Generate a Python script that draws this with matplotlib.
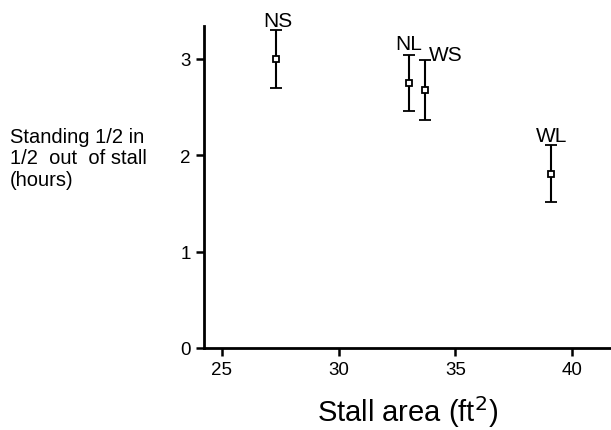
import matplotlib
matplotlib.use("Agg")
import matplotlib.pyplot as plt

groups = ["NS", "NL", "WS", "WL"]
stall_area = [27.3, 33.0, 33.7, 39.1]
standing_hours = [3.0, 2.75, 2.68, 1.81]
error = [0.30, 0.29, 0.31, 0.30]
label_offsets = [(2, 38), (0, 39), (21, 35), (1, 38)]  # pixels

x_ticks = [25, 30, 35, 40]
y_ticks = [0, 1, 2, 3]

plt.rcParams['font.family'] = ['Liberation Sans', 'DejaVu Sans']

fig = plt.figure(figsize=(6.11, 4.31), dpi=100)
ax = fig.add_axes([204/611, (431-349)/431, (611-204)/611, (349-27)/431])

ax.errorbar(stall_area, standing_hours, yerr=error, fmt='s', mfc='white', mec='black',
            ms=5, mew=1.3, ecolor='black', elinewidth=1.5, capsize=4, capthick=1.5)

for g, x, y, off in zip(groups, stall_area, standing_hours, label_offsets):
    ax.annotate(g, (x, y), xytext=off, textcoords='offset pixels',
                ha='center', va='center', fontsize=15)

ax.set_xlim(24.23, 41.67)
ax.set_ylim(0, 3.34)
ax.set_xticks(x_ticks)
ax.set_yticks(y_ticks)
ax.tick_params(axis='both', length=6, width=1.8, labelsize=13.5, direction='out')
for s in ['top', 'right']:
    ax.spines[s].set_visible(False)
for s in ['left', 'bottom']:
    ax.spines[s].set_linewidth(2)

ax.set_xlabel("Stall area (ft$^2$)", fontsize=21, labelpad=11)

fig.text(10/611, 1 - 159/431, "Standing 1/2 in\n1/2  out  of stall\n(hours)",
         ha='left', va='center', fontsize=14.5, linespacing=1.15,
         transform=fig.transFigure)

fig.savefig("out.png", dpi=100)
